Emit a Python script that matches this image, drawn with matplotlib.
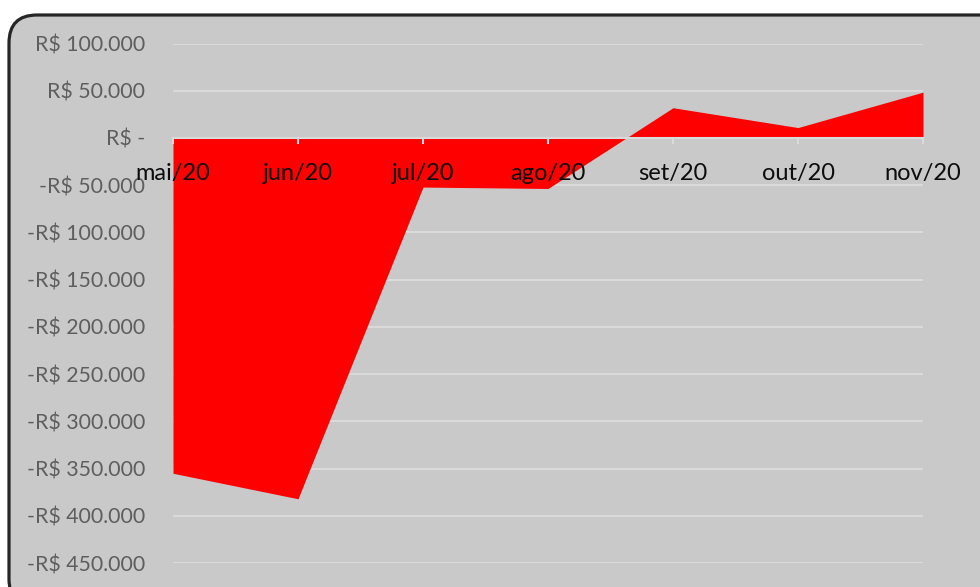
import matplotlib
matplotlib.use("Agg")
from matplotlib import pyplot as plt
from matplotlib.patches import FancyBboxPatch
from matplotlib.ticker import FuncFormatter, MultipleLocator
from matplotlib.transforms import IdentityTransform

# monthly balance (R$)
months = ["mai/20", "jun/20", "jul/20", "ago/20", "set/20", "out/20", "nov/20"]
balance = [-355000, -382000, -52000, -53500, 32000, 11000, 48500]

bg = "#c9c9c9"
grid_col = "#dadada"
plt.rcParams["font.family"] = ["Lato", "DejaVu Sans"]


def brl(v, pos):
    if v == 0:
        return "R$ -"
    s = f"{abs(v):,.0f}".replace(",", ".")
    return ("-" if v < 0 else "") + "R$ " + s


fig = plt.figure(figsize=(9.8, 5.87), dpi=100)
fig.patch.set_facecolor("white")

# rounded chart frame, cut off on the right and bottom
frame = FancyBboxPatch((9, -20), 1000, 592,
                       boxstyle="round,pad=0,rounding_size=28",
                       transform=IdentityTransform(),
                       facecolor=bg, edgecolor="#262626", linewidth=2.3,
                       zorder=-5)
fig.patches.append(frame)

ax = fig.add_axes([173 / 980, 1 - 563 / 587, 750 / 980, (563 - 43.5) / 587])
ax.set_facecolor("none")

x = list(range(len(months)))
ax.fill_between(x, balance, 0, color="#ff0000", linewidth=0, zorder=1)

ax.set_xlim(0, len(months) - 1)
ax.set_ylim(-450000, 100000)
ax.yaxis.set_major_locator(MultipleLocator(50000))
ax.yaxis.set_major_formatter(FuncFormatter(brl))
ax.grid(axis="y", color=grid_col, linewidth=1.5)
ax.set_axisbelow(True)
ax.xaxis.set_zorder(3)

for side in ["top", "right", "left"]:
    ax.spines[side].set_visible(False)
ax.spines["bottom"].set_position(("data", 0))
ax.spines["bottom"].set_color(grid_col)
ax.spines["bottom"].set_linewidth(1.5)
ax.spines["bottom"].set_zorder(3)

ax.set_xticks(x)
ax.set_xticklabels(months)
ax.tick_params(axis="x", direction="out", length=4, width=1.5, color=grid_col,
               labelsize=17, labelcolor="#0d0d0d", pad=14)
ax.tick_params(axis="y", length=0, labelsize=15.3, labelcolor="#5e5e5e", pad=20)

fig.savefig("out.png", dpi=100)
